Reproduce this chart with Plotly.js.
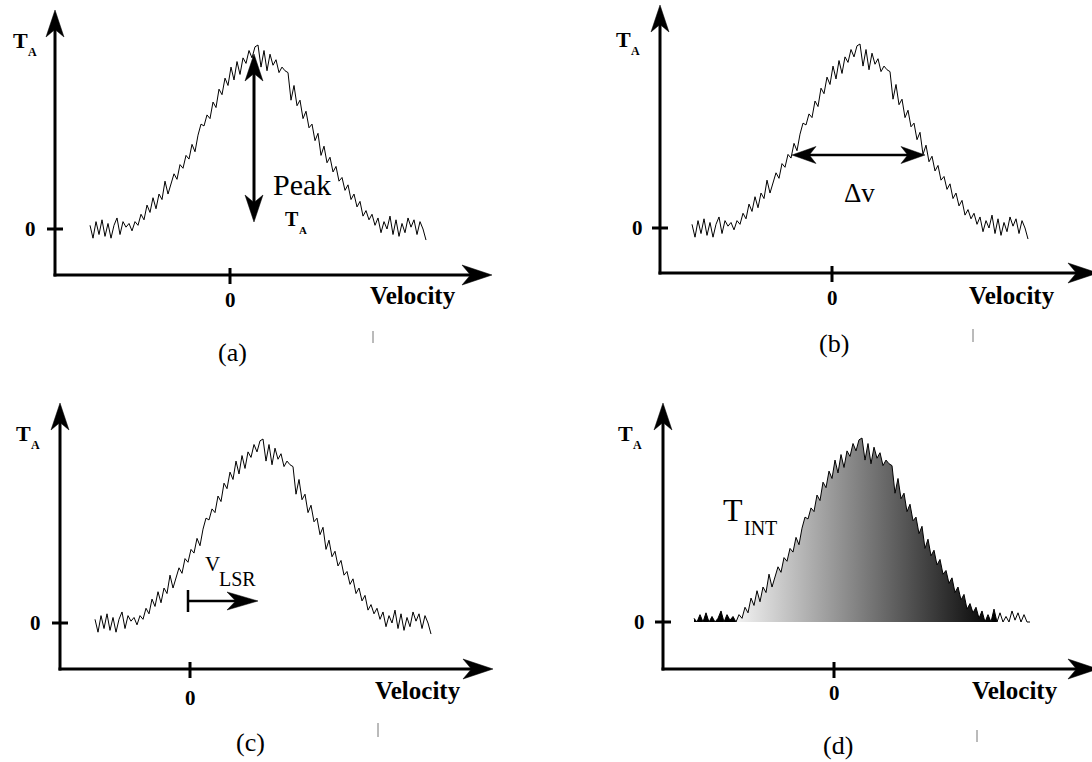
<!DOCTYPE html>
<html><head><meta charset="utf-8">
<script src="https://cdn.plot.ly/plotly-3.0.1.min.js"></script>
<style>html,body{margin:0;padding:0;background:#fff;}#chart{width:1092px;height:762px;}</style>
</head><body><div id="chart"></div>
<script>
// ---- data ----
const velocity = [
-14.0,-13.7,-13.4,-13.1,-12.8,-12.5,-12.2,-11.9,-11.6,-11.3,
-11.0,-10.7,-10.4,-10.1,-9.8,-9.5,-9.2,-8.9,-8.6,-8.3,
-8.0,-7.7,-7.4,-7.1,-6.8,-6.5,-6.2,-5.9,-5.6,-5.3,
-5.0,-4.7,-4.4,-4.1,-3.8,-3.5,-3.2,-2.9,-2.6,-2.3,
-2.0,-1.7,-1.4,-1.1,-0.8,-0.5,-0.2,0.1,0.4,0.7,
1.0,1.3,1.6,1.9,2.2,2.5,2.8,3.1,3.4,3.7,
4.0,4.3,4.6,4.9,5.2,5.5,5.8,6.1,6.4,6.7,
7.0,7.3,7.6,7.9,8.2,8.5,8.8,9.1,9.4,9.7,
10.0,10.3,10.6,10.9,11.2,11.5,11.8,12.1,12.4,12.7,
13.0,13.3,13.6,13.9,14.2,14.5,14.8,15.1,15.4,15.7,
16.0,16.3,16.6,16.9,17.2,17.5,17.8,18.1,18.4,18.7,
19.0,19.3,19.6];
const antennaTemp = [
0.02,-0.05,0.04,-0.03,0.05,-0.04,0.03,-0.05,0.02,0.06,
-0.03,0.04,0.01,0.03,-0.01,0.04,0.02,0.08,0.05,0.13,
0.09,0.17,0.11,0.19,0.16,0.26,0.19,0.24,0.30,0.27,
0.35,0.33,0.40,0.38,0.46,0.42,0.51,0.57,0.56,0.62,
0.60,0.69,0.66,0.76,0.73,0.82,0.78,0.88,0.81,0.91,
0.84,0.93,0.90,0.97,0.93,0.99,1.00,0.88,0.97,0.86,
0.95,0.89,0.92,0.85,0.88,0.86,0.85,0.70,0.78,0.67,
0.70,0.60,0.64,0.55,0.57,0.48,0.52,0.40,0.45,0.36,
0.39,0.31,0.34,0.26,0.28,0.21,0.24,0.16,0.19,0.12,
0.15,0.07,0.10,0.05,0.08,0.02,0.06,-0.02,0.04,0.00,
0.07,-0.03,0.05,-0.04,0.03,-0.02,0.06,0.01,0.05,-0.03,
0.04,0.00,-0.06];
const vlsrShift = 4.5;          // panel (c): spectrum offset from v = 0
const integStart = -9.7;        // panel (d): gradient fill start
const integStop = 16.3;         // panel (d): gradient fill end
const panelLabels = ['(a)', '(b)', '(c)', '(d)'];
const xTitle = 'Velocity';
const zeroLabel = '0';

// ---- geometry (pixels) ----
const W = 1092, H = 762, SX = 10, SY = 184;
const FONT = "'Liberation Serif', 'Times New Roman', serif";
const panels = [
  {xa:'x',  ya:'y',  dom:[0,546,0,381],    yAx:55,  xAy:275, x0:230, t0:229, yTip:10,  xTip:492,
   zy:[30,229], zxY:300, vel:[413,295], ta:[12,40], lab:[232,352], mark:[373,331,343]},
  {xa:'x2', ya:'y2', dom:[546,1092,0,381], yAx:660, xAy:273, x0:832, t0:228, yTip:5,   xTip:1098,
   zy:[637,228], zxY:298, vel:[1012,295], ta:[615,39], lab:[834,344], mark:[973,329,342]},
  {xa:'x3', ya:'y3', dom:[0,546,381,762],  yAx:60,  xAy:669, x0:190, t0:623, yTip:403, xTip:493,
   zy:[35,623], zxY:698, vel:[418,690], ta:[15,433], lab:[250,742], mark:[378,723,737]},
  {xa:'x4', ya:'y4', dom:[546,1092,381,762], yAx:663, xAy:669, x0:834, t0:622, yTip:403, xTip:1098,
   zy:[639,622], zxY:693, vel:[1015,690], ta:[617,433], lab:[838,745], mark:[977,730,742]}
];

const px = x => x / W;
const py = y => 1 - y / H;
function seg(x1, y1, x2, y2, w, c) {
  return {type:'line', xref:'paper', yref:'paper', x0:px(x1), y0:py(y1), x1:px(x2), y1:py(y2),
          line:{color:c || '#000', width:w}, layer:'above'};
}
function head(tx, ty, dx, dy, len, hw) {
  const nx = -dy, ny = dx;
  const bx = tx - dx * len, by = ty - dy * len;
  const pts = [[tx, ty], [bx + nx * hw, by + ny * hw], [tx - dx * len * 0.72, ty - dy * len * 0.72], [bx - nx * hw, by - ny * hw]];
  const s = pts.map((p, i) => (i ? 'L' : 'M') + px(p[0]).toFixed(5) + ',' + py(p[1]).toFixed(5)).join('') + 'Z';
  return {type:'path', xref:'paper', yref:'paper', path:s, fillcolor:'#000', line:{color:'#000', width:0.5}, layer:'above'};
}
function txt(cx, cy, text, size, extra) {
  return Object.assign({xref:'paper', yref:'paper', x:px(cx), y:py(cy), text:text, showarrow:false, borderpad:0,
    xanchor:'center', yanchor:'middle', font:{family:FONT, size:size, color:'#000'}}, extra || {});
}
// base letter + lowered subscript as two texts side by side
function subscripted(left, cy, base, baseSize, subText, subSize, dy, bold) {
  const b = s => bold ? '<b>' + s + '</b>' : s;
  const baseW = baseSize * (bold ? 0.667 : 0.64);
  return [txt(left, cy, b(base), baseSize, {xanchor:'left'}),
          txt(left + baseW + 0.5, cy + dy, b(subText), subSize, {xanchor:'left'})];
}

const layout = {width:W, height:H, margin:{l:0, r:0, t:0, b:0}, paper_bgcolor:'#fff', plot_bgcolor:'rgba(0,0,0,0)',
  showlegend:false, shapes:[], annotations:[], font:{family:FONT}};

panels.forEach((p, i) => {
  const n = i === 0 ? '' : String(i + 1);
  const [L, R, T, B] = p.dom;
  layout['xaxis' + n] = {domain:[L / W, R / W], range:[(L - p.x0) / SX, (R - p.x0) / SX], visible:false, fixedrange:true, anchor:'y' + n};
  layout['yaxis' + n] = {domain:[1 - B / H, 1 - T / H], range:[(p.t0 - B) / SY, (p.t0 - T) / SY], visible:false, fixedrange:true, anchor:'x' + n};
  // axes with arrowheads
  layout.shapes.push(seg(p.yAx, p.xAy + 1.5, p.yAx, p.yTip + 18, 3));
  layout.shapes.push(head(p.yAx, p.yTip, 0, -1, 27, 9));
  layout.shapes.push(seg(p.yAx - 1.5, p.xAy, p.xTip - 20, p.xAy, 3));
  layout.shapes.push(head(p.xTip, p.xAy, 1, 0, 30, 10));
  // zero ticks via data coordinates
  layout.shapes.push({type:'line', xref:p.xa, yref:'paper', x0:0, x1:0, y0:py(p.xAy - 7), y1:py(p.xAy + 9), line:{color:'#000', width:3}});
  layout.shapes.push({type:'line', xref:'paper', yref:p.ya, y0:0, y1:0, x0:px(p.yAx - 8), x1:px(p.yAx + 8), line:{color:'#000', width:3}});
  layout.annotations.push({xref:p.xa, yref:'paper', x:0, y:py(p.zxY), text:'<b>' + zeroLabel + '</b>', showarrow:false,
    xanchor:'center', yanchor:'middle', font:{family:FONT, size:21, color:'#000'}});
  layout.annotations.push({xref:'paper', yref:p.ya, x:px(p.zy[0]), y:0, text:'<b>' + zeroLabel + '</b>', showarrow:false,
    xanchor:'center', yanchor:'middle', font:{family:FONT, size:21, color:'#000'}});
  layout.annotations.push(txt(p.vel[0], p.vel[1], '<b>' + xTitle + '</b>', 25));
  layout.annotations.push(...subscripted(p.ta[0], p.ta[1], 'T', 22, 'A', 12, 12, true));
  layout.annotations.push(txt(p.lab[0], p.lab[1], panelLabels[i], 26));
  layout.shapes.push(seg(p.mark[0], p.mark[1], p.mark[0], p.mark[2], 1, '#777'));
});

// (a) Peak T_A
layout.shapes.push(seg(254, 70, 254, 206, 3));
layout.shapes.push(head(254, 54, 0, -1, 27, 9));
layout.shapes.push(head(254, 222, 0, 1, 27, 9));
layout.annotations.push(txt(302, 185, 'Peak', 30));
layout.annotations.push(...subscripted(284, 219, 'T', 20, 'A', 11, 11, true));
// (b) delta v
layout.shapes.push(seg(808, 155, 909, 155, 2.5));
layout.shapes.push(head(792, 155, -1, 0, 24, 8.5));
layout.shapes.push(head(925, 155, 1, 0, 24, 8.5));
layout.annotations.push(txt(859, 193, '\u0394v', 27));
// (c) V_LSR
layout.shapes.push(seg(188, 590, 188, 612, 2.5));
layout.shapes.push(seg(188, 601, 240, 601, 2.5));
layout.shapes.push(head(258, 601, 1, 0, 31, 9));
layout.annotations.push(...subscripted(204, 564, 'V', 21, 'LSR', 20, 15, false));
// (d) T_INT
layout.annotations.push(...subscripted(722, 510, 'T', 32, 'INT', 20, 18, false));

// ---- traces ----
const lineStyle = {color:'#000', width:1};
const clipped = antennaTemp.map(t => Math.max(t, 0));
const leftV = [], leftT = [], midV = [], midT = [];
velocity.forEach((v, k) => {
  if (v <= integStart) { leftV.push(v); leftT.push(clipped[k]); }
  if (v >= integStart - 0.3 && v <= integStop) { midV.push(v); midT.push(clipped[k]); }
});
const traces = [
  {x:velocity, y:antennaTemp, xaxis:'x', yaxis:'y', mode:'lines', line:lineStyle, hoverinfo:'skip'},
  {x:velocity, y:antennaTemp, xaxis:'x2', yaxis:'y2', mode:'lines', line:lineStyle, hoverinfo:'skip'},
  {x:velocity.map(v => v + vlsrShift), y:antennaTemp, xaxis:'x3', yaxis:'y3', mode:'lines', line:lineStyle, hoverinfo:'skip'},
  {x:leftV, y:leftT, xaxis:'x4', yaxis:'y4', mode:'lines', line:{width:0}, fill:'tozeroy', fillcolor:'#000', hoverinfo:'skip'},
  {x:midV, y:midT, xaxis:'x4', yaxis:'y4', mode:'lines', line:{width:0}, fill:'tozeroy',
   fillgradient:{type:'horizontal', start:integStart, stop:integStop, colorscale:[[0, '#f2f2f2'], [1, '#000000']]}, hoverinfo:'skip'},
  {x:velocity, y:clipped, xaxis:'x4', yaxis:'y4', mode:'lines', line:lineStyle, hoverinfo:'skip'}
];

Plotly.newPlot('chart', traces, layout, {staticPlot:true, displayModeBar:false});
</script>
</body></html>
